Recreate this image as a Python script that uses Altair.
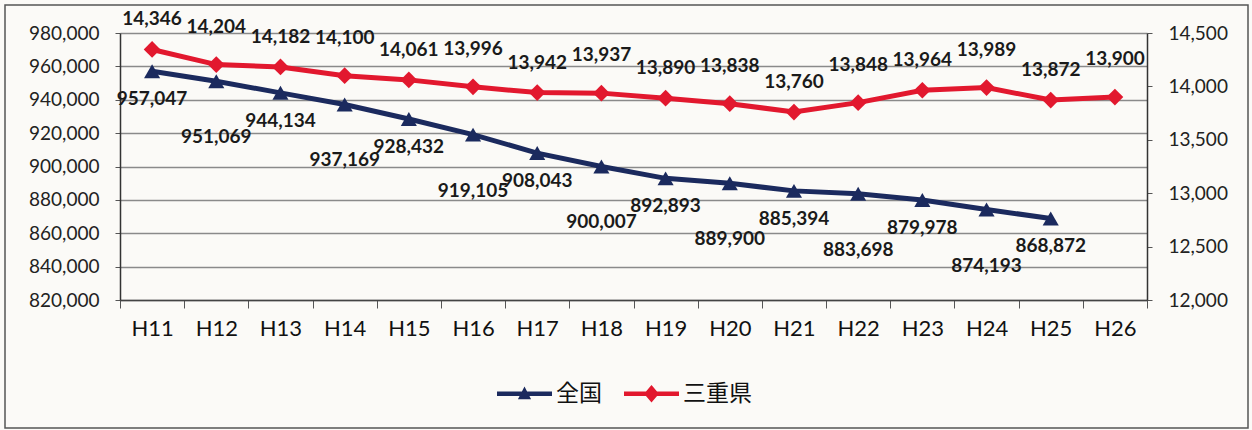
import altair as alt
import pandas as pd

years = ["H11", "H12", "H13", "H14", "H15", "H16", "H17", "H18",
         "H19", "H20", "H21", "H22", "H23", "H24", "H25", "H26"]
national = [957047, 951069, 944134, 937169, 928432, 919105, 908043, 900007,
            892893, 889900, 885394, 883698, 879978, 874193, 868872, None]
mie = [14346, 14204, 14182, 14100, 14061, 13996, 13942, 13937,
       13890, 13838, 13760, 13848, 13964, 13989, 13872, 13900]
series_names = ["全国", "三重県"]
left_ticks = list(range(820000, 980001, 20000))
right_ticks = list(range(12000, 14501, 500))

NAVY = "#1b2a5e"
RED = "#e2182e"
FONT = "Lato, 'Noto Sans CJK JP', sans-serif"

df = pd.DataFrame({"year": years, "national": national, "mie": mie})
legend_df = pd.DataFrame({"series": series_names})
frame_df = pd.DataFrame({"k": [0]})

W, H = 1027, 267

x_enc = alt.X(
    "year:N", sort=years,
    scale=alt.Scale(paddingInner=0, paddingOuter=0),
    axis=alt.Axis(title=None, tickBand="extent", labelFontSize=22, labelColor="#111",
                  labelPadding=10, tickSize=8, tickColor="#555", domainColor="#444",
                  domainWidth=1.5, grid=False, labelAngle=0, labelFont=FONT),
)

y_left = alt.Y(
    "national:Q",
    scale=alt.Scale(domain=[820000, 980000], nice=False, zero=False),
    axis=alt.Axis(values=left_ticks, format=",.0f", title=None, orient="left", grid=True,
                  gridColor="#8a8a8a", gridWidth=1.3, labelFontSize=19, labelColor="#222",
                  labelFont=FONT, tickSize=5, tickColor="#555", domainColor="#333",
                  domainWidth=1.5, labelPadding=16),
)
y_right = alt.Y(
    "mie:Q",
    scale=alt.Scale(domain=[12000, 14500], nice=False, zero=False),
    axis=alt.Axis(values=right_ticks, format=",.0f", title=None, orient="right", grid=False,
                  labelFontSize=19, labelColor="#222", labelFont=FONT, tickSize=5,
                  tickColor="#555", domainColor="#333", domainWidth=1.5, labelPadding=16),
)

base = alt.Chart(df).transform_window(idx="row_number()")

nat_valid = "isValid(datum.national)"
blue_line = base.transform_filter(nat_valid).mark_line(color=NAVY, strokeWidth=5).encode(x=x_enc, y=y_left)
blue_pts = base.transform_filter(nat_valid).mark_point(
    shape="triangle-up", filled=True, size=260, color=NAVY, opacity=1).encode(x=x_enc, y=y_left)


def labels(field, y_enc, dy_first, dy_second, extra_filter=None):
    # alternate label offsets (1st, 3rd, 5th ... vs 2nd, 4th, ...) so neighbours do not collide
    layers = []
    for parity, dy in ((1, dy_first), (0, dy_second)):
        c = base
        if extra_filter:
            c = c.transform_filter(extra_filter)
        c = c.transform_filter(f"datum.idx % 2 == {parity}").mark_text(
            dy=dy, fontSize=19, fontWeight="bold", color="#1a1a1a", font=FONT).encode(
            x=x_enc, y=y_enc, text=alt.Text(f"{field}:Q", format=",.0f"))
        layers.append(c)
    return layers


blue_txt = labels("national", y_left, 28, 56, nat_valid)

red_line = base.mark_line(color=RED, strokeWidth=5).encode(x=x_enc, y=y_right)
red_pts = base.mark_point(shape="diamond", filled=True, size=280, color=RED, opacity=1).encode(x=x_enc, y=y_right)
red_txt = labels("mie", y_right, -30, -38)

tri_path = "M-1,-0.08H1V0.08H-1Z M0,-0.26L0.24,0.2L-0.24,0.2Z"
dia_path = "M-1,-0.08H1V0.08H-1Z M0,-0.32L0.27,0L0,0.32L-0.27,0Z"
leg = alt.Legend(orient="none", legendX=377, legendY=333, direction="horizontal", title=None,
                 labelFontSize=23, labelFont=FONT, labelColor="#111", symbolSize=3025,
                 symbolStrokeWidth=0, symbolOpacity=1, columnPadding=22, labelOffset=4)
legend_layer = alt.Chart(legend_df).mark_point(filled=True, opacity=1).encode(
    x=alt.value(-5000), y=alt.value(-5000),
    color=alt.Color("series:N", sort=series_names,
                    scale=alt.Scale(domain=series_names, range=[NAVY, RED]), legend=leg),
    shape=alt.Shape("series:N", sort=series_names,
                    scale=alt.Scale(domain=series_names, range=[tri_path, dia_path]), legend=leg),
)

frame = alt.Chart(frame_df).mark_rect(filled=False, stroke="#555", strokeWidth=1.5).encode(
    x=alt.value(-115), x2=alt.value(1128), y=alt.value(-28), y2=alt.value(395))

left = alt.layer(blue_line, blue_pts, *blue_txt, legend_layer, frame)
right = alt.layer(red_line, red_pts, *red_txt)

chart = alt.layer(left, right).resolve_scale(y="independent").properties(
    width=W, height=H,
    padding={"left": 120, "top": 33, "right": 105, "bottom": 130},
    autosize="none",
    background="#fbfaf7",
).configure_view(stroke=None).configure(font=FONT)

chart.save("out.html", embed_options={"renderer": "svg", "actions": False})
